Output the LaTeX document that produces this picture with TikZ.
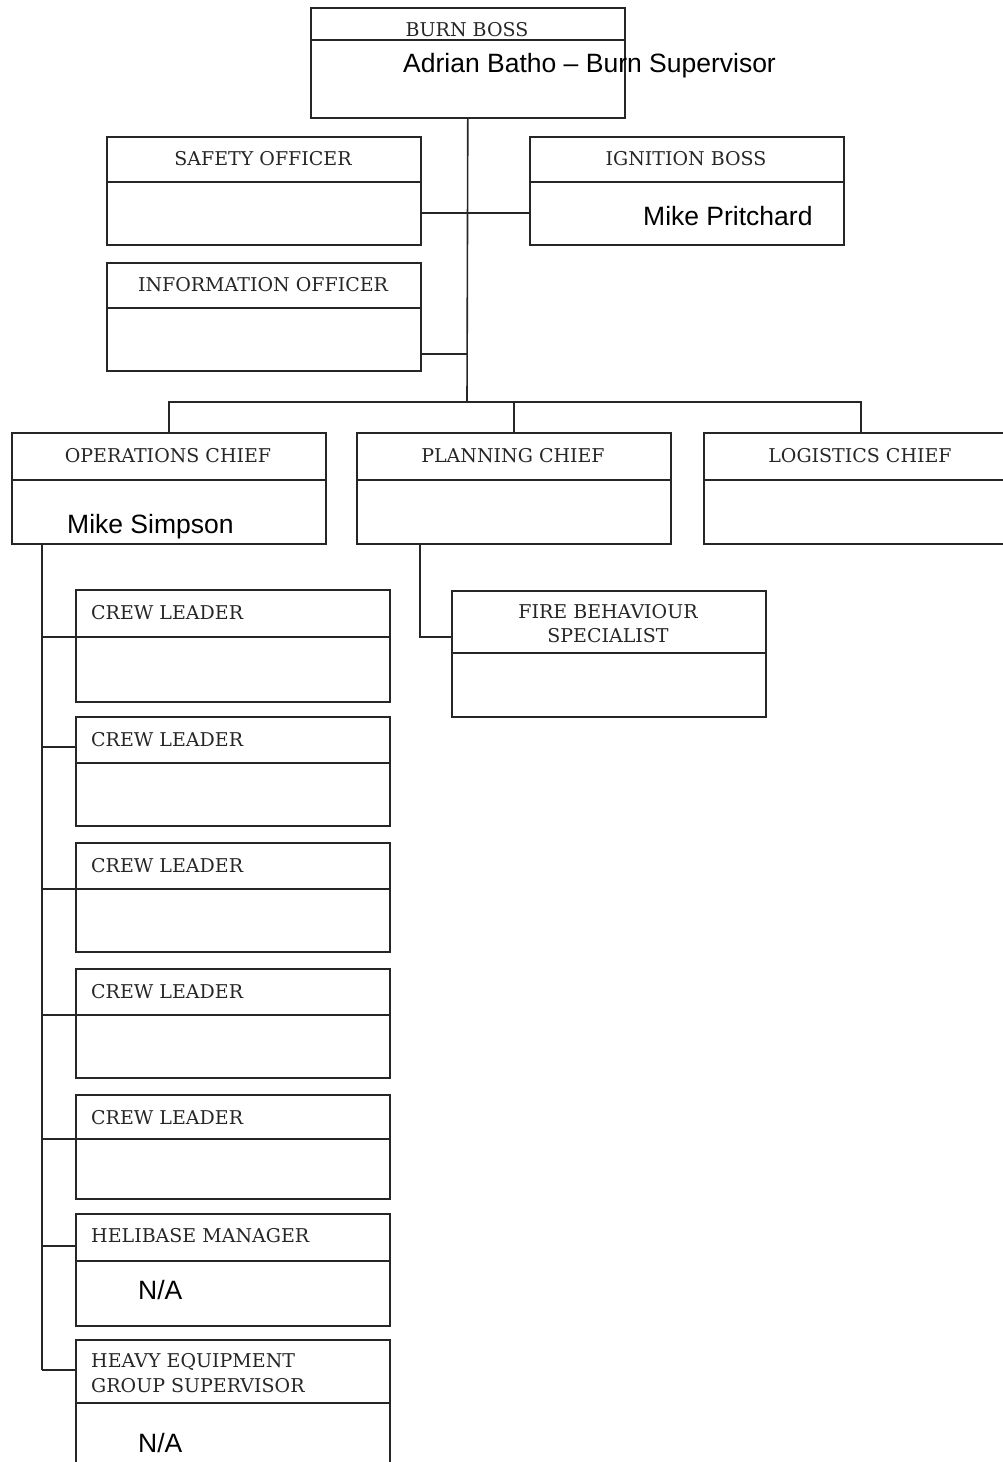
\documentclass[tikz,border=0pt]{standalone}
\usepackage{fontspec}
\newfontfamily\tfont{DejaVu Serif}
\newfontfamily\nfont{Liberation Sans}
\begin{document}
\begin{tikzpicture}[x=1pt,y=-1pt,
  ln/.style={line width=1.6pt, draw=black!85},
  orgbox/.style={ln, rectangle, anchor=north west, inner sep=0pt, minimum width=314pt},
  ttl/.style={font=\tfont\fontsize{19}{24}\selectfont, inner sep=0pt, anchor=base, text=black!85},
  ttll/.style={ttl, anchor=base west},
  nm/.style={font=\nfont\fontsize{26.5}{30}\selectfont, inner sep=0pt, anchor=base west},
]
\useasboundingbox (0,0) rectangle (1003,1462);
\clip (0,0) rectangle (1003,1462);

% Burn boss
\node[orgbox, minimum height=110pt] (burn) at (310,7) {};
\draw[ln] (burn.north west) ++(0,33) -- ++(314,0);
\node[ttl] (burnT) at (467,36) {BURN BOSS};
\node[nm] (burnN) at (403,72) {Adrian Batho – Burn Supervisor};

% Safety officer
\node[orgbox, minimum height=108pt] (safety) at (106,136) {};
\draw[ln] (safety.north west) ++(0,46) -- ++(314,0);
\node[ttl] (safetyT) at (263,165) {SAFETY OFFICER};

% Ignition boss
\node[orgbox, minimum height=108pt] (ignition) at (529,136) {};
\draw[ln] (ignition.north west) ++(0,46) -- ++(314,0);
\node[ttl] (ignitionT) at (686,165) {IGNITION BOSS};
\node[nm] (ignitionN) at (643,225) {Mike Pritchard};

% Information officer
\node[orgbox, minimum height=108pt] (info) at (106,262) {};
\draw[ln] (info.north west) ++(0,46) -- ++(314,0);
\node[ttl] (infoT) at (263,291) {INFORMATION OFFICER};

% Chiefs
\node[orgbox, minimum height=111pt] (ops) at (11,432) {};
\draw[ln] (ops.north west) ++(0,48) -- ++(314,0);
\node[ttl] (opsT) at (168,462) {OPERATIONS CHIEF};
\node[nm] (opsN) at (67,533) {Mike Simpson};

\node[orgbox, minimum height=111pt] (plan) at (356,432) {};
\draw[ln] (plan.north west) ++(0,48) -- ++(314,0);
\node[ttl] (planT) at (513,462) {PLANNING CHIEF};

\node[orgbox, minimum height=111pt] (log) at (703,432) {};
\draw[ln] (log.north west) ++(0,48) -- ++(314,0);
\node[ttl] (logT) at (860,462) {LOGISTICS CHIEF};

% Fire behaviour specialist
\node[orgbox, minimum height=126pt] (fire) at (451,590) {};
\draw[ln] (fire.north west) ++(0,63) -- ++(314,0);
\node[ttl] (fireT1) at (608,618) {FIRE BEHAVIOUR};
\node[ttl] (fireT2) at (608,642) {SPECIALIST};

% Crew leaders
\foreach \i/\t/\h/\d/\c in {1/589/112/48/637, 2/716/109/47/747, 3/842/109/47/889, 4/968/109/47/1015, 5/1094/104/45/1139}{
  \node[orgbox, minimum height=\h pt] (crew\i) at (75,\t) {};
  \draw[ln] (crew\i.north west) ++(0,\d) -- ++(314,0);
  \node[ttll] (crewT\i) at (91,\t+30) {CREW LEADER};
  \coordinate (cc\i) at (42,\c);
}

% Helibase manager
\node[orgbox, minimum height=112pt] (heli) at (75,1213) {};
\draw[ln] (heli.north west) ++(0,48) -- ++(314,0);
\node[ttll] (heliT) at (91,1242) {HELIBASE MANAGER};
\node[nm] (heliN) at (138,1299) {N/A};
\coordinate (cc6) at (42,1246);

% Heavy equipment group supervisor
\node[orgbox, minimum height=150pt] (heavy) at (75,1339) {};
\draw[ln] (heavy.north west) ++(0,64) -- ++(314,0);
\node[ttll] (heavyT1) at (91,1367) {HEAVY EQUIPMENT};
\node[ttll] (heavyT2) at (91,1392) {GROUP SUPERVISOR};
\node[nm] (heavyN) at (138,1452) {N/A};
\coordinate (cc7) at (42,1370);

% Connectors
\coordinate (bus) at (467,402);
\coordinate (j1) at (467,213);
\coordinate (j2) at (467,354);
\coordinate (pf) at (420,637);
\draw[ln] (burn.south) -- (bus);
\draw[ln] (j1 -| safety.east) -- (j1 -| ignition.west);
\draw[ln] (j2 -| info.east) -- (j2);
\draw[ln] (ops.north) |- (bus) -| (log.north);
\draw[ln] (plan.north) -- (plan.north |- bus);
\draw[ln] (plan.south -| pf) |- (fire.west |- pf);
\draw[ln] (ops.south -| cc7) -- (cc7);
\foreach \i in {1,...,5}{
  \draw[ln] (cc\i) -- (cc\i -| crew\i.west);
}
\draw[ln] (cc6) -- (cc6 -| heli.west);
\draw[ln] (cc7) -- (cc7 -| heavy.west);
\end{tikzpicture}
\end{document}
